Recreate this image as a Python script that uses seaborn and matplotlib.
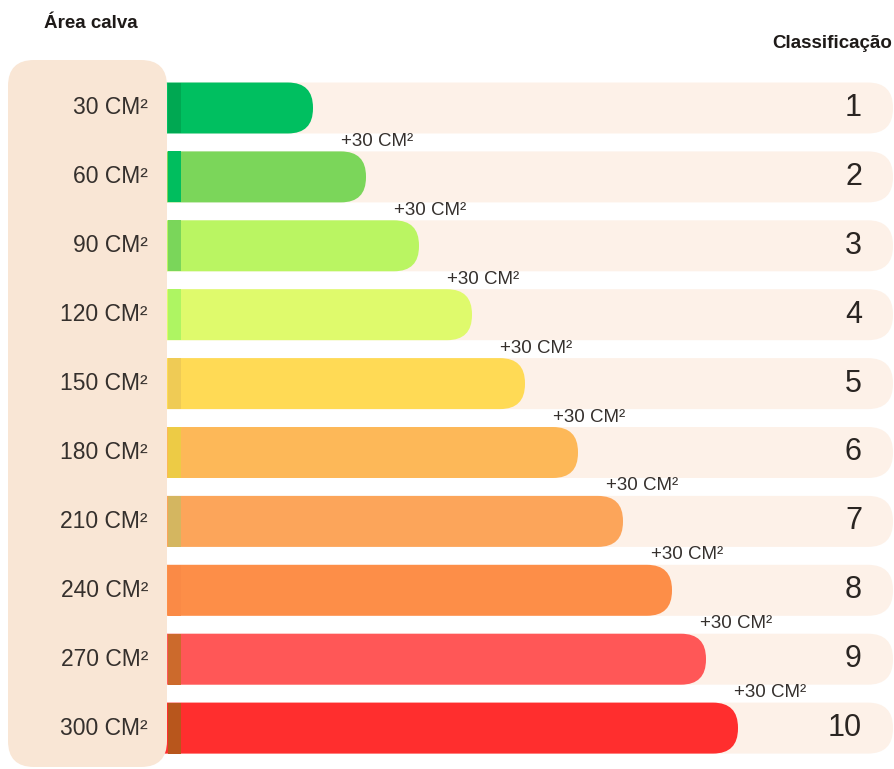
import pandas as pd
import matplotlib.pyplot as plt
import seaborn as sns
from matplotlib.patches import FancyBboxPatch, Rectangle

# Chart data
areas = ["30 CM²", "60 CM²", "90 CM²", "120 CM²", "150 CM²",
         "180 CM²", "210 CM²", "240 CM²", "270 CM²", "300 CM²"]
ranks = ["1", "2", "3", "4", "5", "6", "7", "8", "9", "10"]
bar_length = [145, 198, 251, 304, 357, 410, 455, 504, 538, 570]
step_label = "+30 CM²"
bar_colors = ["#00BF60", "#7BD65A", "#BAF562", "#DFFA6C", "#FFDA55",
              "#FDB858", "#FCA55A", "#FD8E48", "#FF5757", "#FF2E2E"]
strip_colors = ["#00A852", "#00BE5E", "#7AD65A", "#AEF562", "#EFCB55",
                "#EDCB45", "#D4B660", "#FA8A46", "#CC6A2C", "#B8561C"]

TEXT = "#35302d"
ROW_PX = 68.9          # pixels per category row
ASPECT = 1 / ROW_PX    # y units per x unit (x is in pixels)


def py(p):
    """pixel row -> category units"""
    return (p - 108) / ROW_PX


df = pd.DataFrame({"area": areas, "comprimento": bar_length})

sns.set_theme(style="white")
plt.rcParams["font.family"] = ["Liberation Sans", "DejaVu Sans"]

fig = plt.figure(figsize=(8.94, 7.69), dpi=100)
ax = fig.add_axes([0, 0, 1, 1])

sns.barplot(data=df, x="comprimento", y="area", hue="area", order=areas,
            palette=bar_colors, saturation=1, orient="h", width=0.74,
            legend=False, ax=ax)

# swap seaborn's rectangles for bars with a rounded right end
for i, p in enumerate(list(ax.patches)):
    x, y, w, h = p.get_x(), p.get_y(), p.get_width(), p.get_height()
    fc = p.get_facecolor()
    p.remove()
    # background track
    ax.add_patch(FancyBboxPatch((-40, y), 765, h,
                                boxstyle="round,pad=0,rounding_size=25",
                                mutation_aspect=ASPECT, fc="#FDF1E8", ec="none", zorder=1))
    ax.add_patch(FancyBboxPatch((x - 40, y), w + 40, h,
                                boxstyle="round,pad=0,rounding_size=25",
                                mutation_aspect=ASPECT, fc=fc, ec="none", zorder=3))
    ax.add_patch(Rectangle((x, y), 13, h, fc=strip_colors[i], ec="none", zorder=4))

# left panel
ax.add_patch(FancyBboxPatch((-160, py(60)), 159, py(767) - py(60),
                            boxstyle="round,pad=0,rounding_size=26",
                            mutation_aspect=ASPECT, fc="#F9E6D5", ec="none", zorder=5))

for i, (lab, rk) in enumerate(zip(areas, ranks)):
    ax.text(-20, i, lab, ha="right", va="center", fontsize=16.5,
            color=TEXT, zorder=6)
    ax.text(694, i, rk, ha="right", va="center", fontsize=22,
            color="#2a2522", zorder=6)
    if i > 0:
        ax.text(bar_length[i - 1] + 28, i - 0.515, step_label, ha="left",
                va="center", fontsize=13.5, color=TEXT, zorder=6)

ax.text(-77, py(23), "Área calva", ha="center", va="center",
        fontsize=13.5, fontweight="bold", color="#1e1a18")
ax.text(724, py(43), "Classificação", ha="right", va="center",
        fontsize=13.5, fontweight="bold", color="#1e1a18")

ax.set_xlim(-168, 726)
ax.set_ylim(py(769), py(0))
ax.axis("off")

fig.savefig("out.png", dpi=100)
